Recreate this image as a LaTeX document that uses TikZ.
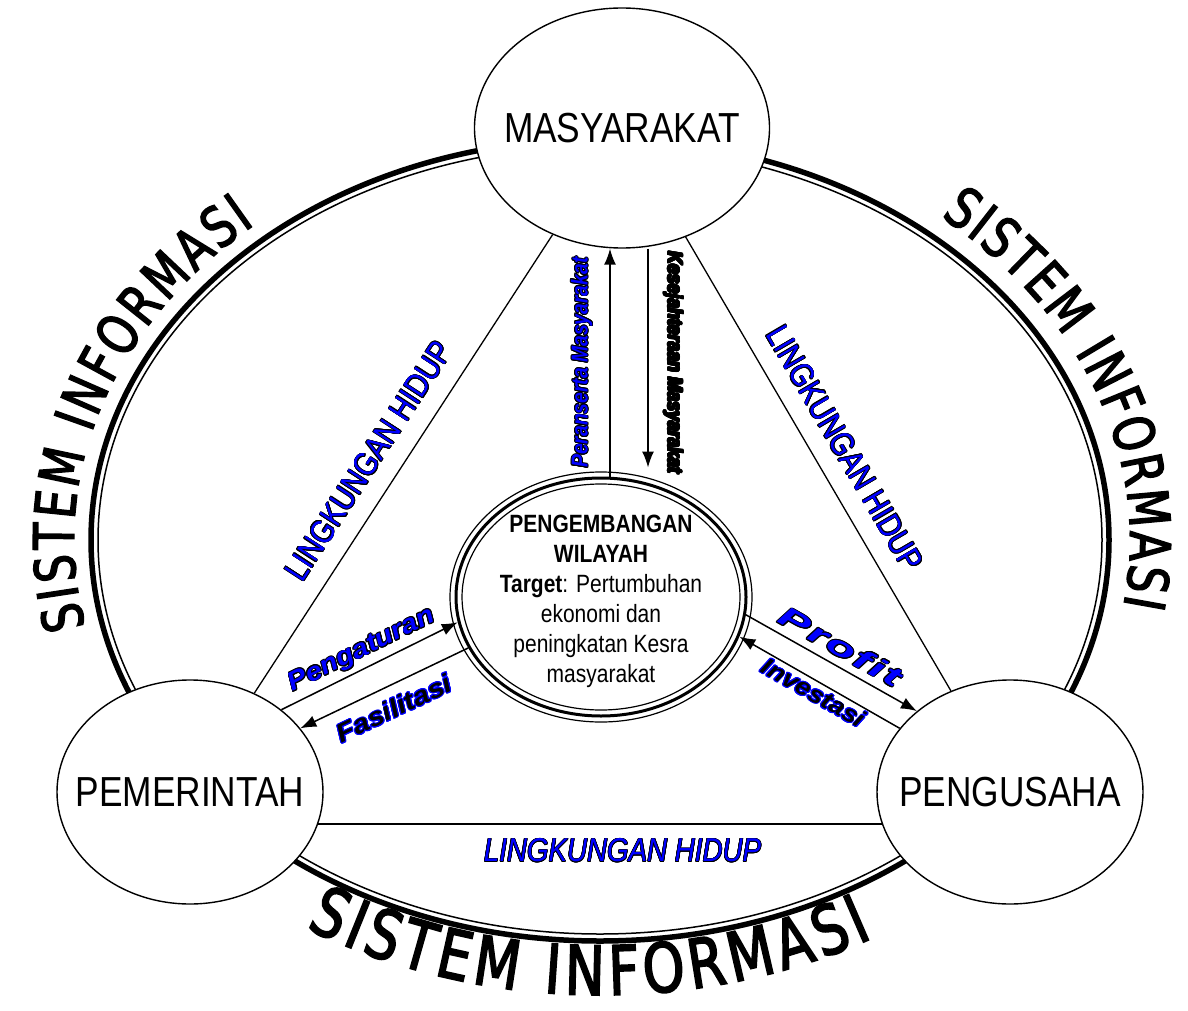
\documentclass[tikz,border=0pt]{standalone}
\usepackage{fontspec}
\setmainfont{Liberation Sans}
\newfontfamily\narrowfont[FakeStretch=0.84]{Liberation Sans}
\newfontfamily\extfont[FakeStretch=1.12]{Liberation Sans}
\newfontfamily\widefont[FakeStretch=1.7,LetterSpace=8]{Liberation Sans}
\newfontfamily\sifont[FakeStretch=0.78,FakeBold=2.5]{DejaVu Sans}
\usepackage{contour}
\contourlength{0.9pt}
\usetikzlibrary{shapes.geometric,arrows.meta,decorations.text}
\newcommand{\bluelabel}[1]{\contour{black}{\textcolor{blue}{#1}}}
\newcommand{\darklabel}[1]{\contour{blue}{#1}}
\newcommand{\thinlabel}[1]{\contourlength{0.6pt}\contour{black}{\textcolor{blue}{#1}}}

\begin{document}
\begin{tikzpicture}[x=1pt,y=1pt,
  actor/.style={ellipse,draw,fill=white,line width=1.4pt,inner sep=0pt,
    minimum width=266pt,minimum height=224pt,font=\narrowfont\fontsize{42}{48}\selectfont},
  link/.style={line width=1.3pt},
  flow/.style={line width=1.5pt,-{Latex[length=16pt,width=12pt]}},
  env/.style={inner sep=2pt,font=\narrowfont\fontsize{33}{38}\selectfont},
  sideword/.style={inner sep=2pt,font=\narrowfont\bfseries\itshape\fontsize{23}{26}\selectfont},
  tradeword/.style={inner sep=2pt,font=\extfont\bfseries\itshape\fontsize{26}{30}\selectfont},
  ring/.style={decorate,decoration={text along path,text align=fit to path,text={|\sifont\fontsize{#1}{#1}\selectfont|SISTEM INFORMASI}}}]
\useasboundingbox (0,0) rectangle (1188,-1011);

% Outer ring
\draw[line width=5.5pt] (600,-540) ellipse [x radius=509, y radius=401];
\draw[line width=1.5pt] (600,-540) ellipse [x radius=502, y radius=394];

% Ring labels
\path[ring=56] (600,-540) ++(192:526 and 418) arc [start angle=192, end angle=131, x radius=526, y radius=418];
\path[ring=56] (600,-540) ++(50:530 and 422) arc [start angle=50, end angle=-9, x radius=530, y radius=422];
\path[ring=68] (600,-540) ++(238.5:563 and 455) arc [start angle=238.5, end angle=299, x radius=563, y radius=455];

% Actors
\node[actor,minimum width=295pt,minimum height=240pt] (mas) at (622,-128) {\makebox[120pt]{MASYARAKAT}};
\node[actor] (pem) at (190,-792) {\makebox[120pt]{PEMERINTAH}};
\node[actor] (pen) at (1010,-792) {\makebox[120pt]{PENGUSAHA}};

% Centre
\node[ellipse,draw,line width=3pt,inner sep=0pt,minimum width=290pt,minimum height=238pt,
  font=\narrowfont\fontsize{25}{30}\selectfont] (pw) at (601,-597)
  {\makebox[150pt]{\raisebox{-11pt}[50pt][50pt]{\begin{tabular}{@{}c@{}}
   \textbf{PENGEMBANGAN}\\\textbf{WILAYAH}\\\textbf{Target}: Pertumbuhan\\ekonomi dan\\peningkatan Kesra\\masyarakat
   \end{tabular}}}};
\draw[line width=1.2pt] (pw.center) ellipse [x radius=151, y radius=125];
\draw[line width=1.2pt] (pw.center) ellipse [x radius=139, y radius=113];

% Lingkungan hidup
\draw[link] (pem) -- (mas) node[env,pos=0.47,above=16pt,sloped] {\thinlabel{LINGKUNGAN HIDUP}};
\draw[link] (mas) -- (pen) node[env,midway,above=16pt,sloped] {\thinlabel{LINGKUNGAN HIDUP}};
\draw[link] (pem.-14.6) -- (pen.194.6) node[env,pos=0.54,below=12pt] {\thinlabel{\itshape LINGKUNGAN HIDUP}};

% Flows with masyarakat
\draw[flow] ([xshift=9pt]pw.north) -- ([xshift=9pt]pw.north |- mas.south)
  node[sideword,midway,above=14pt,sloped] {\bluelabel{Peranserta Masyarakat}};
\draw[flow,shorten >=9pt] ([xshift=26pt]mas.south) -- ([xshift=47pt]pw.north)
  node[sideword,midway,above=12pt,sloped,font=\narrowfont\bfseries\itshape\fontsize{21}{24}\selectfont] {\contour{black}{Kesejahteraan Masyarakat}};

% Flows with pemerintah
\draw[flow] (pem.42) -- (pw.190) node[tradeword,midway,above=2pt,sloped] {\bluelabel{Pengaturan}};
\draw[flow] (pw.201) -- (pem.30) node[tradeword,midway,below=10pt,sloped] {\darklabel{Fasilitasi}};

% Flows with pengusaha
\draw[flow] (pw.-7.6) -- (pen.139.2) node[tradeword,midway,above=5pt,sloped,font=\widefont\bfseries\itshape\fontsize{28}{32}\selectfont] {\bluelabel{Profit}};
\draw[flow] (pen.150.3) -- (pw.-16.4) node[tradeword,midway,below=0pt,sloped,font=\extfont\bfseries\itshape\fontsize{24}{28}\selectfont] {\darklabel{Investasi}};
\end{tikzpicture}
\end{document}
